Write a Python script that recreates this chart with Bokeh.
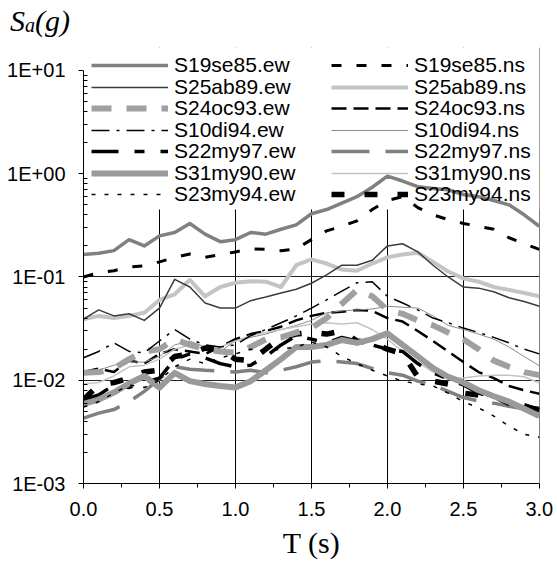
from bokeh.plotting import figure
from bokeh.models import (Range1d, FixedTicker, NumeralTickFormatter, CustomJSTickFormatter,
                          Legend, LegendItem, BoxAnnotation, Div)
from bokeh.layouts import column
from bokeh.embed import file_html
from bokeh.resources import INLINE

# ---------------- data ----------------
T = [0.0, 0.1, 0.2, 0.3, 0.4, 0.5, 0.6, 0.7, 0.8, 0.9, 1.0, 1.1, 1.2, 1.3, 1.4, 1.5,
     1.6, 1.7, 1.8, 1.9, 2.0, 2.1, 2.2, 2.3, 2.4, 2.5, 2.6, 2.7, 2.8, 2.9, 3.0]

s19se85_ew = [0.165, 0.17, 0.18, 0.23, 0.2, 0.25, 0.27, 0.33, 0.26, 0.22, 0.23, 0.27, 0.26, 0.29, 0.32, 0.41,
              0.45, 0.52, 0.6, 0.74, 0.95, 0.85, 0.75, 0.72, 0.7, 0.63, 0.6, 0.55, 0.5, 0.4, 0.31]
s19se85_ns = [0.1, 0.11, 0.115, 0.125, 0.128, 0.14, 0.155, 0.167, 0.155, 0.165, 0.175, 0.187, 0.185, 0.18, 0.187, 0.23,
              0.28, 0.31, 0.35, 0.45, 0.55, 0.6, 0.47, 0.4, 0.36, 0.33, 0.31, 0.29, 0.24, 0.21, 0.185]
s25ab89_ew = [0.039, 0.048, 0.042, 0.044, 0.038, 0.05, 0.095, 0.08, 0.056, 0.05, 0.05, 0.059, 0.064, 0.07, 0.076, 0.087,
              0.105, 0.13, 0.13, 0.145, 0.2, 0.21, 0.175, 0.13, 0.1, 0.08, 0.078, 0.072, 0.063, 0.058, 0.052]
s25ab89_ns = [0.039, 0.042, 0.04, 0.042, 0.045, 0.06, 0.068, 0.094, 0.065, 0.08, 0.088, 0.091, 0.09, 0.08, 0.13, 0.148,
              0.135, 0.118, 0.115, 0.135, 0.155, 0.165, 0.172, 0.14, 0.113, 0.097, 0.09, 0.08, 0.075, 0.07, 0.065]
s24oc93_ew = [0.0118, 0.012, 0.013, 0.016, 0.019, 0.02, 0.025, 0.022, 0.02, 0.019, 0.0185, 0.021, 0.025, 0.026, 0.029, 0.032,
              0.04, 0.055, 0.075, 0.065, 0.048, 0.044, 0.038, 0.034, 0.029, 0.025, 0.02, 0.0155, 0.0135, 0.012, 0.0112]
s24oc93_ns = [0.012, 0.013, 0.012, 0.0155, 0.0145, 0.018, 0.02, 0.019, 0.018, 0.021, 0.025, 0.028, 0.03, 0.033, 0.038, 0.042,
              0.045, 0.046, 0.048, 0.047, 0.04, 0.037, 0.03, 0.024, 0.019, 0.015, 0.012, 0.0105, 0.0088, 0.008, 0.0074]
s10di94_ew = [0.0165, 0.019, 0.023, 0.019, 0.0185, 0.024, 0.031, 0.025, 0.022, 0.021, 0.022, 0.027, 0.031, 0.036, 0.042, 0.05,
              0.06, 0.073, 0.088, 0.09, 0.065, 0.056, 0.048, 0.04, 0.036, 0.032, 0.029, 0.026, 0.023, 0.02, 0.018]
s10di94_ns = [0.012, 0.0125, 0.014, 0.015, 0.015, 0.017, 0.022, 0.024, 0.021, 0.019, 0.024, 0.026, 0.028, 0.031, 0.034, 0.038,
              0.045, 0.047, 0.048, 0.049, 0.052, 0.051, 0.05, 0.042, 0.034, 0.031, 0.028, 0.025, 0.021, 0.017, 0.0138]
s22my97_ew = [0.0065, 0.0072, 0.009, 0.0085, 0.0095, 0.0105, 0.016, 0.018, 0.0165, 0.0145, 0.0135, 0.014, 0.017, 0.022, 0.027, 0.025,
              0.023, 0.026, 0.024, 0.022, 0.02, 0.019, 0.0145, 0.0118, 0.0103, 0.009, 0.0075, 0.0068, 0.0063, 0.0058, 0.0052]
s22my97_ns = [0.0043, 0.0048, 0.0052, 0.0062, 0.0078, 0.0103, 0.0135, 0.0128, 0.0125, 0.0123, 0.012, 0.0125, 0.0118, 0.0125, 0.0135, 0.015,
              0.0155, 0.015, 0.0145, 0.013, 0.0118, 0.0112, 0.0098, 0.009, 0.0078, 0.0068, 0.0063, 0.006, 0.0056, 0.0053, 0.0048]
s31my90_ew = [0.0059, 0.0065, 0.0076, 0.0093, 0.011, 0.0085, 0.0118, 0.0098, 0.0092, 0.0088, 0.0085, 0.0098, 0.0125, 0.016, 0.021, 0.021,
              0.022, 0.0245, 0.023, 0.025, 0.0285, 0.022, 0.017, 0.0131, 0.0108, 0.0095, 0.008, 0.007, 0.0062, 0.0053, 0.0045]
s31my90_ns = [0.0092, 0.0095, 0.011, 0.0135, 0.014, 0.016, 0.02, 0.022, 0.02, 0.021, 0.024, 0.027, 0.029, 0.031, 0.033, 0.035,
              0.036, 0.035, 0.036, 0.031, 0.025, 0.019, 0.015, 0.012, 0.0105, 0.0105, 0.011, 0.0112, 0.0112, 0.0108, 0.0094]
s23my94_ew = [0.0055, 0.0062, 0.0075, 0.009, 0.0085, 0.01, 0.0135, 0.016, 0.0145, 0.0165, 0.018, 0.02, 0.019, 0.02, 0.021, 0.0235,
              0.021, 0.017, 0.0145, 0.0125, 0.011, 0.0098, 0.0092, 0.0088, 0.0075, 0.0062, 0.0054, 0.0045, 0.0036, 0.003, 0.0028]
s23my94_ns = [0.0065, 0.009, 0.0095, 0.0105, 0.012, 0.0125, 0.017, 0.018, 0.0205, 0.02, 0.016, 0.0155, 0.02, 0.026, 0.028, 0.029,
              0.028, 0.03, 0.024, 0.023, 0.02, 0.018, 0.0108, 0.0098, 0.0092, 0.0075, 0.0072, 0.007, 0.006, 0.0055, 0.0052]

x_ticks = [0.0, 0.5, 1.0, 1.5, 2.0, 2.5, 3.0]
x_minor = [0.25, 0.75, 1.25, 1.75, 2.25, 2.75]
y_ticks = [1e-3, 1e-2, 1e-1, 1.0, 10.0]
y_minor = [m * d for d in (1e-3, 1e-2, 1e-1, 1.0) for m in (2, 3, 4, 5, 6, 7, 8, 9)]
y_grid_ticks = [1e-2, 1e-1]

# (name, values, color, width, dash)
series_ew = [
    ("S19se85.ew", s19se85_ew, "#808080", 3.5, "solid"),
    ("S25ab89.ew", s25ab89_ew, "#3c3c3c", 1.5, "solid"),
    ("S24oc93.ew", s24oc93_ew, "#a0a0a0", 6, "20 15"),
    ("S10di94.ew", s10di94_ew, "#000000", 1.5, "18 7 3 7"),
    ("S22my97.ew", s22my97_ew, "#000000", 3.5, "27 16 10 16"),
    ("S31my90.ew", s31my90_ew, "#9a9a9a", 6, "solid"),
    ("S23my94.ew", s23my94_ew, "#000000", 1.5, "4 9"),
]
series_ns = [
    ("S19se85.ns", s19se85_ns, "#000000", 3, "10 15"),
    ("S25ab89.ns", s25ab89_ns, "#c4c4c4", 4, "solid"),
    ("S24oc93.ns", s24oc93_ns, "#000000", 2.5, "15 7"),
    ("S10di94.ns", s10di94_ns, "#8c8c8c", 1, "solid"),
    ("S22my97.ns", s22my97_ns, "#808080", 3.5, "38 16"),
    ("S31my90.ns", s31my90_ns, "#c4c4c4", 1.5, "solid"),
    ("S23my94.ns", s23my94_ns, "#000000", 5.5, "13 20"),
]

p = figure(width=557, height=529, output_backend="svg", toolbar_location=None,
           y_axis_type="log", x_range=Range1d(0, 3.001), y_range=Range1d(1e-3, 16.7),
           min_border_left=83, min_border_right=18, min_border_top=7, min_border_bottom=86)
p.outline_line_color = None
p.background_fill_color = "white"
p.border_fill_color = "white"

# axes
xa = p.xaxis[0]
xa.ticker = FixedTicker(ticks=x_ticks, minor_ticks=x_minor)
xa.formatter = NumeralTickFormatter(format="0.0")
xa.major_tick_out = 5
xa.major_tick_in = 0
xa.minor_tick_out = 4
xa.minor_tick_in = 0
xa.major_label_standoff = 13
xa.major_label_text_font = "Liberation Sans"
xa.major_label_text_font_size = "20px"
xa.major_label_text_color = "black"
xa.axis_label = "T (s)"
xa.axis_label_text_font = "Liberation Serif"
xa.axis_label_text_font_style = "normal"
xa.axis_label_text_font_size = "30px"
xa.axis_label_text_color = "black"
xa.axis_label_standoff = 7
xa.axis_line_color = "black"
xa.major_tick_line_color = "black"
xa.minor_tick_line_color = "black"

ya = p.yaxis[0]
ya.ticker = FixedTicker(ticks=y_ticks, minor_ticks=y_minor)
ya.formatter = CustomJSTickFormatter(code="""
    const e = Math.round(Math.log10(tick));
    const s = e < 0 ? '-' : '+';
    return '1E' + s + String(Math.abs(e)).padStart(2, '0');
""")
ya.bounds = (1e-3, 10.0)
ya.major_tick_out = 5
ya.major_tick_in = 0
ya.minor_tick_in = 4
ya.minor_tick_out = 0
ya.major_label_standoff = 13
ya.major_label_text_font = "Liberation Sans"
ya.major_label_text_font_size = "20px"
ya.major_label_text_color = "black"
ya.axis_line_color = "black"
ya.major_tick_line_color = "black"
ya.minor_tick_line_color = "black"

p.xgrid.ticker = FixedTicker(ticks=x_ticks)
p.xgrid.grid_line_color = "black"
p.xgrid.grid_line_width = 1
p.ygrid.ticker = FixedTicker(ticks=y_grid_ticks)
p.ygrid.grid_line_color = "#222222"
p.ygrid.grid_line_width = 1

# white area behind the legend hides the grid there (curves stay on top)
p.add_layout(BoxAnnotation(bottom=0.45, fill_color="white", fill_alpha=1.0,
                           line_color=None, level="underlay"))

def add_series(lst):
    items = []
    for name, vals, color, width, dash in lst:
        r = p.line(T, vals, line_color=color, line_width=width, line_dash=dash,
                   line_join="round")
        items.append(LegendItem(label=name, renderers=[r]))
    return items

items_ns = add_series(series_ns)
items_ew = add_series(series_ew)

# legend: two columns, one small legend per entry so the row pitch matches
ROW_TOP = 406      # px above the frame bottom for the first row's box bottom
ROW_PITCH = 21.5
for col_x, items in ((8, items_ew), (248, items_ns)):
    for i, it in enumerate(items):
        p.add_layout(Legend(items=[it], location=(col_x, ROW_TOP - ROW_PITCH * i),
                            orientation="vertical",
                            glyph_width=77, glyph_height=20, label_standoff=6,
                            label_text_font="Liberation Sans", label_text_font_size="21px",
                            label_text_color="black", spacing=0, padding=2, margin=0,
                            border_line_color=None, background_fill_alpha=0.0), "center")

# y-axis title "Sa(g)" at the top left
title_div = Div(
    text='<i>S<span style="font-size:20px;vertical-align:-1px">a</span>(g)</i>',
    width=120, height=40, margin=0,
    styles={"font-family": "Liberation Serif", "font-size": "30px", "color": "black",
            "padding-left": "10px", "padding-top": "6px", "line-height": "1"})

layout = column(title_div, p, spacing=0)
open("out.html", "w").write(file_html(layout, INLINE))
